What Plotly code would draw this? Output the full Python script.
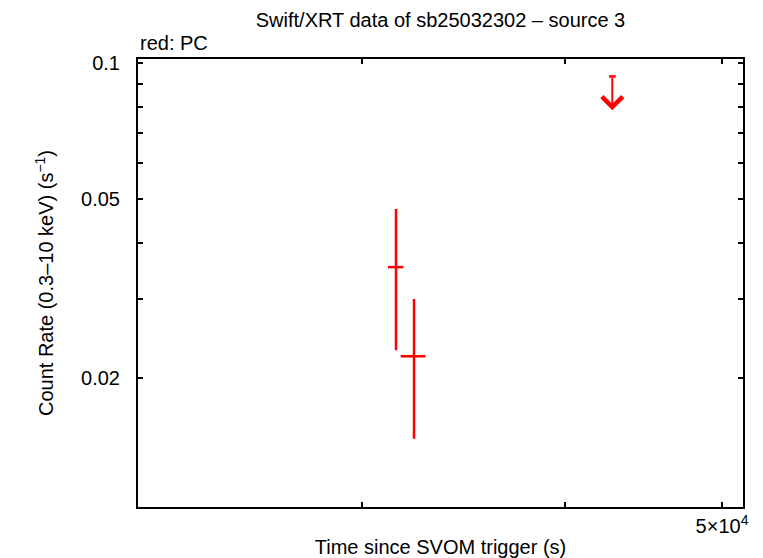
import numpy as np
import plotly.graph_objects as go

# ---- data ----
time_s = [31480, 32295]
time_lo = [31125, 31690]
time_hi = [31812, 32822]
rate = [0.0353, 0.0224]
rate_hi = [0.0475, 0.0300]
rate_lo = [0.0231, 0.0147]

ul_time = [42790]
ul_time_lo = [42590]
ul_time_hi = [43000]
ul_rate = [0.0934]
ul_tip = [0.0786]

x_range = [21829, 51510]
y_range = [0.01038, 0.1021]

y_tick_vals = [0.1, 0.09, 0.08, 0.07, 0.06, 0.05, 0.04, 0.03, 0.02]
y_tick_text = ["0.1", "", "", "", "", "0.05", "", "", "0.02"]
x_tick_vals = [30000, 40000, 50000]
x_tick_text = ["", "", "5×10<sup>4</sup>"]

RED = "#ff0000"
FONT = "Liberation Sans, Arial, sans-serif"
FS = 20

# page body has an 8px margin, so the figure is sized/offset to compensate
W, H = 755, 550

fig = go.Figure()

fig.add_trace(go.Scatter(
    x=time_s, y=rate, mode="markers",
    marker=dict(size=1, color=RED),
    error_x=dict(type="data", symmetric=False,
                 array=[h - t for h, t in zip(time_hi, time_s)],
                 arrayminus=[t - l for t, l in zip(time_s, time_lo)],
                 color=RED, thickness=2.5, width=0),
    error_y=dict(type="data", symmetric=False,
                 array=[h - r for h, r in zip(rate_hi, rate)],
                 arrayminus=[r - l for r, l in zip(rate, rate_lo)],
                 color=RED, thickness=2.5, width=0),
    showlegend=False, hoverinfo="skip",
))

# upper limit: time bar + arrow
fig.add_trace(go.Scatter(
    x=ul_time, y=ul_rate, mode="markers",
    marker=dict(size=1, color=RED),
    error_x=dict(type="data", symmetric=False,
                 array=[h - t for h, t in zip(ul_time_hi, ul_time)],
                 arrayminus=[t - l for t, l in zip(ul_time, ul_time_lo)],
                 color=RED, thickness=2.5, width=0),
    showlegend=False, hoverinfo="skip",
))
for t, r, tip in zip(ul_time, ul_rate, ul_tip):
    fig.add_annotation(
        x=np.log10(t), y=np.log10(tip), xref="x", yref="y",
        ax=np.log10(t), ay=np.log10(r), axref="x", ayref="y",
        text="", showarrow=True, arrowhead=4, arrowsize=2.0,
        arrowwidth=2, arrowcolor=RED, standoff=0,
    )

fig.add_annotation(
    x=0, y=1, xref="paper", yref="paper", xanchor="left", yanchor="bottom",
    yshift=3, text="red: PC", showarrow=False,
    font=dict(family=FONT, size=FS, color="black"),
)

axis_common = dict(
    showline=True, linecolor="black", linewidth=2, mirror="ticks",
    ticks="inside", ticklen=5, tickwidth=2, tickcolor="black",
    showgrid=False, zeroline=False, automargin=False,
    tickfont=dict(family=FONT, size=FS, color="black"),
)

fig.update_layout(
    width=W, height=H,
    margin=dict(l=130, r=20, t=51, b=51),
    paper_bgcolor="white", plot_bgcolor="white",
    title=dict(text="Swift/XRT data of sb25032302 – source 3",
               x=0.5, xref="paper", xanchor="center",
               y=1 - 12 / H, yanchor="middle",
               font=dict(family=FONT, size=FS, color="black")),
    xaxis=dict(type="log", range=[np.log10(x_range[0]), np.log10(x_range[1])],
               tickmode="array", tickvals=x_tick_vals, ticktext=x_tick_text,
               title=dict(text="Time since SVOM trigger (s)", standoff=14,
                          font=dict(family=FONT, size=FS, color="black")),
               **axis_common),
    yaxis=dict(type="log", range=[np.log10(y_range[0]), np.log10(y_range[1])],
               tickmode="array", tickvals=y_tick_vals, ticktext=y_tick_text,
               ticklabelstandoff=12,
               title=dict(text="Count Rate (0.3–10 keV) (s<sup>−1</sup>)", standoff=22,
                          font=dict(family=FONT, size=FS, color="black")),
               **axis_common),
)

fig.write_html("out.html")
